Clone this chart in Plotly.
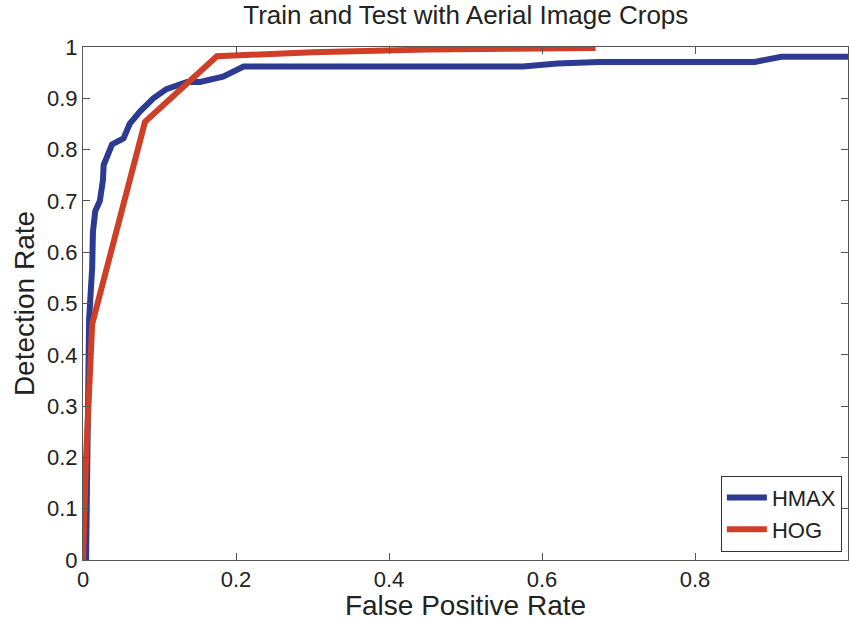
import plotly.graph_objects as go

# HMAX ROC curve
hmax_fpr = [0.004, 0.006, 0.008, 0.012, 0.013, 0.016, 0.022, 0.026, 0.027, 0.038, 0.050, 0.053,
            0.061, 0.075, 0.092, 0.109, 0.136, 0.153, 0.183, 0.210, 0.575, 0.620, 0.675,
            0.878, 0.913, 1.000]
hmax_tpr = [0.000, 0.300, 0.470, 0.570, 0.640, 0.680, 0.700, 0.740, 0.770, 0.810, 0.818, 0.822,
            0.850, 0.875, 0.900, 0.918, 0.932, 0.932, 0.942, 0.962, 0.962, 0.968, 0.971,
            0.971, 0.981, 0.981]

# HOG ROC curve
hog_fpr = [0.000, 0.004, 0.012, 0.081, 0.175, 0.300, 0.450, 0.670]
hog_tpr = [0.000, 0.200, 0.460, 0.854, 0.982, 0.990, 0.995, 0.998]

x_ticks = [0, 0.2, 0.4, 0.6, 0.8, 1]
x_tick_labels = ["0", "0.2", "0.4", "0.6", "0.8", "1"]
y_ticks = [0, 0.1, 0.2, 0.3, 0.4, 0.5, 0.6, 0.7, 0.8, 0.9, 1]
y_tick_labels = ["0", "0.1", "0.2", "0.3", "0.4", "0.5", "0.6", "0.7", "0.8", "0.9", "1"]

FONT = "Liberation Sans, Arial, sans-serif"

fig = go.Figure()
fig.add_trace(go.Scatter(x=hmax_fpr, y=hmax_tpr, mode="lines", name="HMAX",
                         line=dict(color="#2d3a92", width=6)))
fig.add_trace(go.Scatter(x=hog_fpr, y=hog_tpr, mode="lines", name="HOG",
                         line=dict(color="#cf3e26", width=6)))

axis_common = dict(showline=True, linecolor="#555555", linewidth=1, mirror="ticks",
                   ticks="inside", ticklen=7, tickcolor="#555555", showgrid=False,
                   zeroline=False, tickfont=dict(family=FONT, size=22, color="#222222"))

fig.update_layout(
    width=850, height=621,
    margin=dict(l=83, r=2, t=47, b=61),
    paper_bgcolor="white", plot_bgcolor="white",
    title=dict(text="Train and Test with Aerial Image Crops", x=0.548, xanchor="center",
               y=0.99, yanchor="top",
               font=dict(family=FONT, size=26, color="#222222")),
    xaxis=dict(range=[0, 1], tickvals=x_ticks, ticktext=x_tick_labels,
               title=dict(text="False Positive Rate", standoff=2,
                          font=dict(family=FONT, size=28, color="#222222")),
               **axis_common),
    yaxis=dict(range=[0, 1], tickvals=y_ticks, ticktext=y_tick_labels,
               title=dict(text="Detection Rate", standoff=4,
                          font=dict(family=FONT, size=28, color="#222222")),
               **axis_common),
    legend=dict(x=0.992, y=0.016, xanchor="right", yanchor="bottom",
                bgcolor="white", bordercolor="#333333", borderwidth=1,
                font=dict(family=FONT, size=22, color="#222222"),
                itemwidth=40, tracegroupgap=0),
    showlegend=True,
)

fig.write_html("out.html")
